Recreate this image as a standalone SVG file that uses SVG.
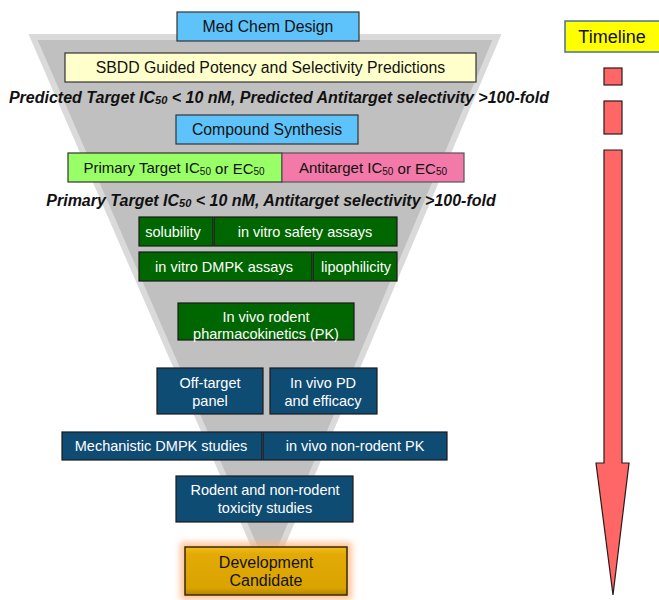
<svg xmlns="http://www.w3.org/2000/svg" width="659" height="600" viewBox="0 0 659 600">
  <defs>
    <style>
      text { font-family: "Liberation Sans", Arial, sans-serif; text-anchor: middle; dominant-baseline: central; }
      .dark { fill: #111; font-size: 15.8px; }
      .light { fill: #fff; font-size: 14.5px; }
      .crit { fill: #111; font-size: 16px; font-weight: bold; font-style: italic; }
      .blue { fill: #5fc3fb; stroke: #333; stroke-width: 1.2; }
      .cream { fill: #ffffcc; stroke: #333; stroke-width: 1.2; }
      .lime { fill: #99ff66; stroke: #333; stroke-width: 1.2; }
      .pink { fill: #f279a8; stroke: #555; stroke-width: 1.2; }
      .green { fill: #006600; stroke: #1a1a1a; stroke-width: 1.2; }
      .navy { fill: #0f4c74; stroke: #1a1a1a; stroke-width: 1.2; }
      .bar { fill: #ff6666; stroke: #2a1a1a; stroke-width: 1.2; }
    </style>
    <linearGradient id="gold" x1="0" y1="0" x2="0" y2="1">
      <stop offset="0" stop-color="#f2bd1a"/>
      <stop offset="0.15" stop-color="#e3aa05"/>
      <stop offset="0.85" stop-color="#d9a300"/>
      <stop offset="1" stop-color="#b58400"/>
    </linearGradient>
    <filter id="glow" x="-20%" y="-40%" width="140%" height="180%">
      <feGaussianBlur stdDeviation="3"/>
    </filter>
  </defs>

  <!-- funnel backdrop -->
  <g id="funnel">
    <polygon points="33,37 497,37 268,578" fill="#c0c0c0" stroke="#dadada" stroke-width="6" stroke-linejoin="miter"/>
  </g>

  <g id="med-chem-design">
    <rect class="blue" x="177" y="12" width="182" height="29"/>
    <text class="dark" x="268" y="26.5">Med Chem Design</text>
  </g>

  <g id="sbdd">
    <rect class="cream" x="65" y="53" width="411" height="29"/>
    <text class="dark" x="270.5" y="67.5">SBDD Guided Potency and Selectivity Predictions</text>
  </g>

  <g id="predicted-criteria">
    <text class="crit" x="279" y="97">Predicted Target IC<tspan font-size="11" dy="3">50</tspan><tspan dy="-3"> &lt; 10 nM, Predicted Antitarget selectivity &gt;100-fold</tspan></text>
  </g>

  <g id="compound-synthesis">
    <rect class="blue" x="176" y="115" width="182" height="29"/>
    <text class="dark" x="267" y="129.5">Compound Synthesis</text>
  </g>

  <g id="primary-target">
    <rect class="lime" x="68" y="153" width="214" height="29"/>
    <text class="dark" x="174" y="167.5" style="font-size:15px">Primary Target IC<tspan font-size="10" dy="3">50</tspan><tspan dy="-3"> or EC</tspan><tspan font-size="10" dy="3">50</tspan></text>
  </g>

  <g id="antitarget">
    <rect class="pink" x="282" y="153" width="182" height="29"/>
    <text class="dark" x="373" y="167.5" style="font-size:15px">Antitarget IC<tspan font-size="10" dy="3">50</tspan><tspan dy="-3"> or EC</tspan><tspan font-size="10" dy="3">50</tspan></text>
  </g>

  <g id="primary-criteria">
    <text class="crit" x="271" y="200">Primary Target IC<tspan font-size="11" dy="3">50</tspan><tspan dy="-3"> &lt; 10 nM, Antitarget selectivity &gt;100-fold</tspan></text>
  </g>

  <g id="solubility">
    <rect class="green" x="139" y="217" width="74" height="29"/>
    <text class="light" x="173" y="231.5">solubility</text>
  </g>

  <g id="in-vitro-safety">
    <rect class="green" x="214" y="217" width="183" height="29"/>
    <text class="light" x="305" y="231.5">in vitro safety assays</text>
  </g>

  <g id="in-vitro-dmpk">
    <rect class="green" x="139" y="252" width="173" height="29"/>
    <text class="light" x="224" y="266.5">in vitro DMPK assays</text>
  </g>

  <g id="lipophilicity">
    <rect class="green" x="313" y="252" width="84" height="29"/>
    <text class="light" x="356" y="266.5">lipophilicity</text>
  </g>

  <g id="rodent-pk">
    <rect class="green" x="178" y="303" width="176" height="37"/>
    <text class="light" x="266" y="317">In vivo rodent</text>
    <text class="light" x="266" y="334">pharmacokinetics (PK)</text>
  </g>

  <g id="off-target-panel">
    <rect class="navy" x="157" y="368" width="106" height="46"/>
    <text class="light" x="210" y="383">Off-target</text>
    <text class="light" x="210" y="401">panel</text>
  </g>

  <g id="in-vivo-pd">
    <rect class="navy" x="270" y="368" width="107" height="46"/>
    <text class="light" x="323" y="383">In vivo PD</text>
    <text class="light" x="323" y="401">and efficacy</text>
  </g>

  <g id="mechanistic-dmpk">
    <rect class="navy" x="62" y="432" width="200" height="28"/>
    <text class="light" x="161" y="446">Mechanistic DMPK studies</text>
  </g>

  <g id="non-rodent-pk">
    <rect class="navy" x="263" y="432" width="184" height="28"/>
    <text class="light" x="355" y="446">in vivo non-rodent PK</text>
  </g>

  <g id="toxicity-studies">
    <rect class="navy" x="176" y="476" width="177" height="46"/>
    <text class="light" x="265" y="490">Rodent and non-rodent</text>
    <text class="light" x="265" y="508">toxicity studies</text>
  </g>

  <g id="development-candidate">
    <rect x="180" y="542" width="172" height="58" rx="4" fill="#ffb27a" opacity="0.75" filter="url(#glow)"/>
    <rect x="185" y="547" width="162" height="48" fill="url(#gold)" stroke="#3a2a00" stroke-width="1.5"/>
    <text class="dark" x="266" y="562" style="font-size:16px">Development</text>
    <text class="dark" x="266" y="580" style="font-size:16px">Candidate</text>
  </g>

  <g id="timeline-label">
    <rect x="565" y="21" width="96" height="31" fill="#ffff00" stroke="#4a6f9a" stroke-width="1.5"/>
    <text class="dark" x="612" y="37" style="font-size:18px">Timeline</text>
  </g>

  <!-- timeline bars and arrow -->
  <g id="timeline">
    <rect class="bar" x="604" y="68" width="18" height="17"/>
    <rect class="bar" x="604" y="101" width="18" height="33"/>
    <polygon class="bar" points="604,150 622,150 622,463 629,463 613,595 596,463 604,463"/>
  </g>
</svg>
